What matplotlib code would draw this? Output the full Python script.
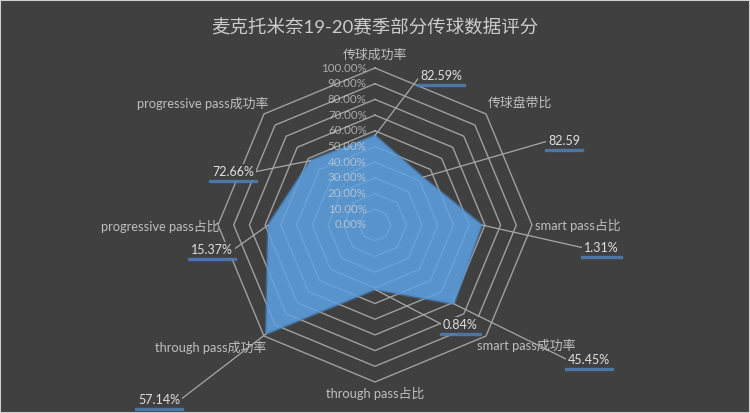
import numpy as np
import matplotlib
matplotlib.use("Agg")
import matplotlib.pyplot as plt
from matplotlib.patches import Rectangle
from matplotlib.text import Text

plt.rcParams['font.family'] = ['Lato', 'Noto Sans CJK SC', 'DejaVu Sans']

# ---------------- data ----------------
title = "麦克托米奈19-20赛季部分传球数据评分"
categories = ["传球成功率", "传球盘带比", "smart pass占比", "smart pass成功率",
              "through pass占比", "through pass成功率", "progressive pass占比",
              "progressive pass成功率"]
scores = [0.57, 0.43, 0.68, 0.71, 0.41, 0.98, 0.68, 0.58]
value_labels = ["82.59%", "82.59", "1.31%", "45.45%", "0.84%", "57.14%", "15.37%", "72.66%"]
r_ticks = [0.0, 0.1, 0.2, 0.3, 0.4, 0.5, 0.6, 0.7, 0.8, 0.9, 1.0]
r_tick_labels = ["0.00%", "10.00%", "20.00%", "30.00%", "40.00%", "50.00%",
                 "60.00%", "70.00%", "80.00%", "90.00%", "100.00%"]

# ---------------- layout (pixels, from top-left) ----------------
W, H = 750, 413
BG = '#404040'
cx, cy, R = 375, 225, 157
cat_pos = [(375, 55, 'center'), (520, 103, 'center'), (578, 225, 'center'),
           (526, 345, 'center'), (375, 393, 'center'), (211, 347, 'center'),
           (160, 226, 'center'), (203, 103, 'center')]
# value label anchor (x, y, side)
val_pos = [(420, 76, 'left'), (548, 141, 'left'), (584, 248, 'left'),
           (568, 360, 'left'), (443, 325, 'left'), (180, 400, 'right'),
           (233, 250, 'right'), (254, 172, 'right')]

fig = plt.figure(figsize=(W / 100, H / 100), dpi=100, facecolor=BG)
ax = fig.add_axes([(cx - R) / W, (H - cy - R) / H, 2 * R / W, 2 * R / H],
                  projection='polar')
ax.set_facecolor('none')
ax.set_theta_offset(np.pi / 2)
ax.set_theta_direction(-1)
ax.set_ylim(0, 1)
ax.axis('off')

n = len(categories)
angles = np.linspace(0, 2 * np.pi, n, endpoint=False)
ang_c = np.concatenate([angles, angles[:1]])

# rings
for r in r_ticks[1:]:
    ax.plot(ang_c, [r] * (n + 1), color='#a0a0a0', lw=1.0, clip_on=False, zorder=1)

# filled area
vals_c = np.concatenate([scores, scores[:1]])
ax.fill(ang_c, vals_c, color='#5ea2e4', alpha=0.86, zorder=3, clip_on=False, lw=0)
ax.plot(ang_c, vals_c, color='#4d8ccc', lw=2.0, alpha=0.5, zorder=3, clip_on=False)

# radial tick labels
for r, lab in zip(r_ticks, r_tick_labels):
    ax.annotate(lab, xy=(0, r), xycoords='data', xytext=(-6, 0),
                textcoords='offset points', ha='right', va='center',
                fontsize=8.3, color='#d0d0d0', alpha=0.75, zorder=4,
                annotation_clip=False)

# category labels
for (x, y, ha), lab in zip(cat_pos, categories):
    fig.text(x / W, 1 - y / H, lab, ha=ha, va='center', fontsize=9.3, color='#bfbfbf')

# value labels with leader lines
texts = []
for i, ((x, y, side), lab) in enumerate(zip(val_pos, value_labels)):
    t = ax.annotate(lab, xy=(angles[i], scores[i]), xycoords='data',
                    xytext=(x, H - y), textcoords='figure pixels',
                    ha=side, va='center', fontsize=9, color='#e0e0e0', zorder=5,
                    annotation_clip=False,
                    bbox=dict(boxstyle='square,pad=0.15', fc=BG, ec='none'),
                    arrowprops=dict(arrowstyle='-', color='#a8a8a8', lw=0.9,
                                    shrinkA=0, shrinkB=0,
                                    relpos=(0, 0.5) if side == 'left' else (1, 0.5)))
    texts.append(t)

fig.text(0.5, 1 - 27 / H, title, ha='center', va='center', fontsize=13.3, color='#cccccc')

# blue underline under value labels
fig.canvas.draw()
renderer = fig.canvas.get_renderer()
for t in texts:
    bb = Text.get_window_extent(t, renderer)
    fig.patches.append(Rectangle(((bb.x0 - 3) / W, (bb.y0 - 4) / H), (bb.width + 6) / W, 2.5 / H,
                                 transform=fig.transFigure, color='#4f7fb3', alpha=0.8))

# border
fig.patches.append(Rectangle((0, 0), 1, 1, transform=fig.transFigure, fill=False,
                             ec='#cfcfcf', lw=1.5))

fig.savefig('out.png', dpi=100, facecolor=BG)
